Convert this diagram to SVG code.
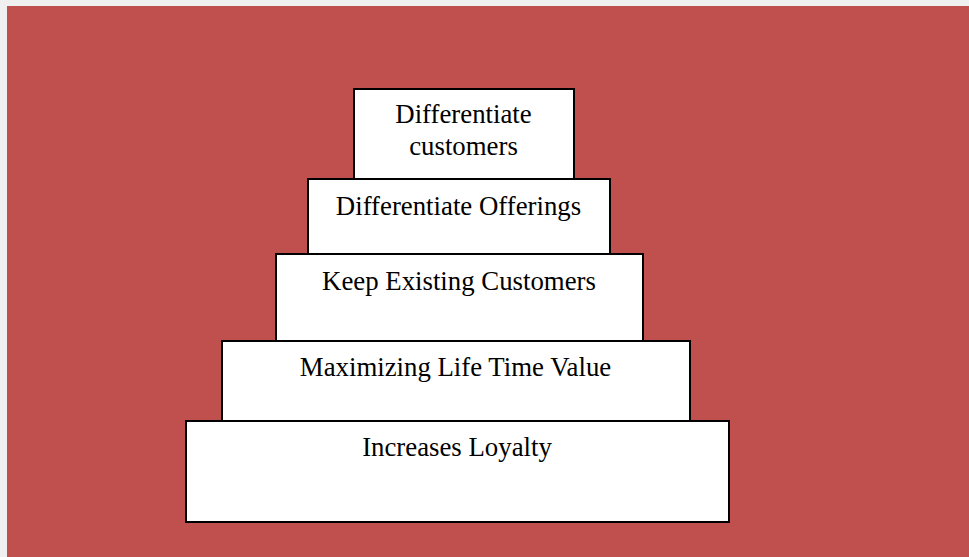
<svg xmlns="http://www.w3.org/2000/svg" width="969" height="557" viewBox="0 0 969 557">
<style>
.box{fill:#fff;stroke:#000;stroke-width:2}
.t{font-family:"Liberation Serif","Times New Roman",serif;font-size:26.8px;fill:#000;text-anchor:middle}
</style>
<rect x="0" y="0" width="969" height="557" fill="#f0f0f0"/>
<rect x="7" y="6" width="962" height="551" fill="#c0504d"/>
<g id="n5"><rect class="box" x="186" y="421" width="543" height="101"/><text class="t" x="457" y="456">Increases Loyalty</text></g>
<g id="n4"><rect class="box" x="222" y="341" width="468" height="80"/><text class="t" x="455.5" y="376">Maximizing Life Time Value</text></g>
<g id="n3"><rect class="box" x="276" y="254" width="367" height="87"/><text class="t" x="459" y="290">Keep Existing Customers</text></g>
<g id="n2"><rect class="box" x="308" y="179" width="302" height="75"/><text class="t" x="458.5" y="215">Differentiate Offerings</text></g>
<g id="n1"><rect class="box" x="354" y="89" width="220" height="90"/><text class="t" x="463.5" y="123">Differentiate</text><text class="t" x="463.5" y="155">customers</text></g>
<g id="connectors"/>
</svg>
